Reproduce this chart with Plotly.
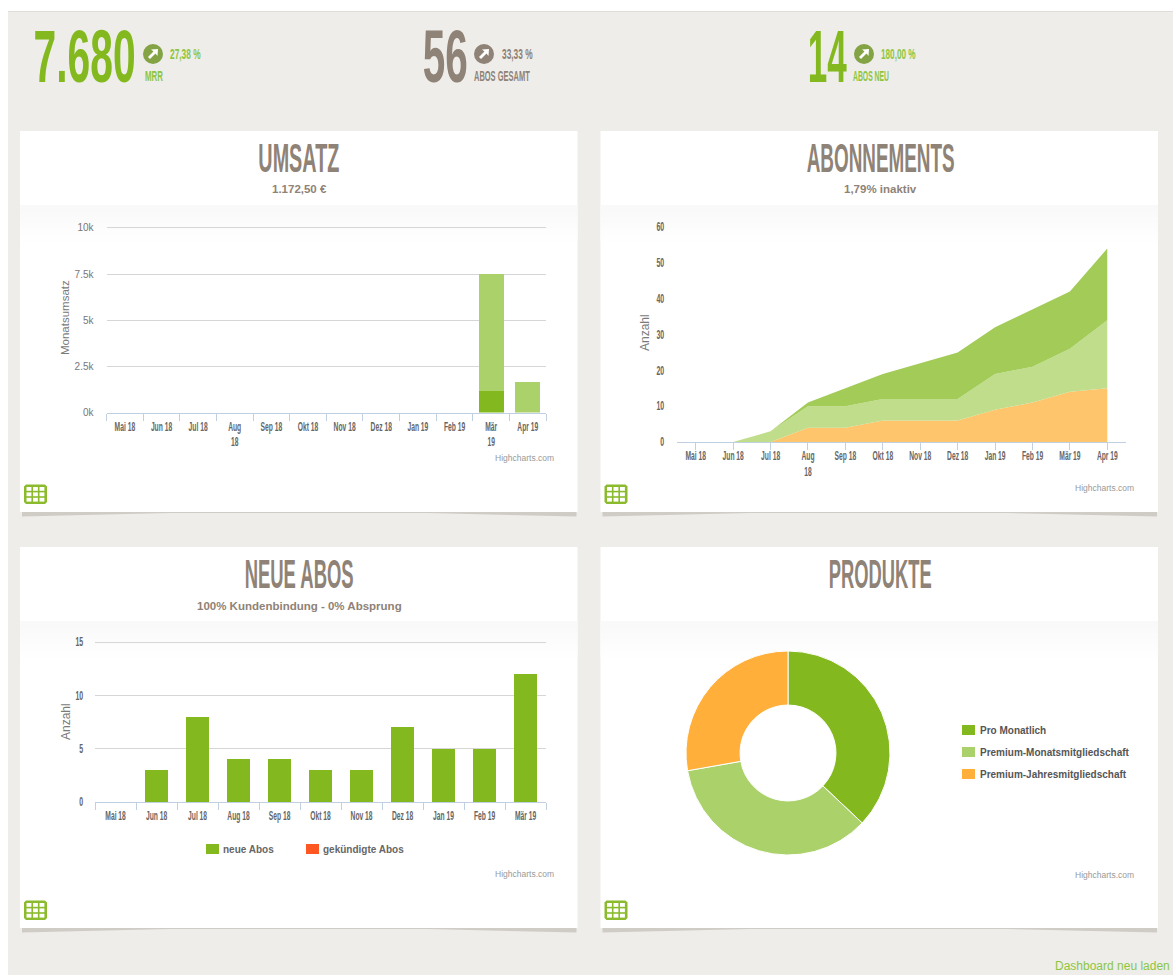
import json
import plotly.graph_objects as go

W, H = 1173, 975

# ---------- data ----------
months_a = ["Mai 18", "Jun 18", "Jul 18", "Aug<br>18", "Sep 18", "Okt 18", "Nov 18", "Dez 18", "Jan 19", "Feb 19", "Mär<br>19", "Apr 19"]
months_b = ["Mai 18", "Jun 18", "Jul 18", "Aug<br>18", "Sep 18", "Okt 18", "Nov 18", "Dez 18", "Jan 19", "Feb 19", "Mär 19", "Apr 19"]
months_c = ["Mai 18", "Jun 18", "Jul 18", "Aug 18", "Sep 18", "Okt 18", "Nov 18", "Dez 18", "Jan 19", "Feb 19", "Mär 19"]

umsatz_einmal = [0, 0, 0, 0, 0, 0, 0, 0, 0, 0, 1172.5, 0]
umsatz_wiederkehrend = [0, 0, 0, 0, 0, 0, 0, 0, 0, 0, 6330, 1650]
umsatz_ticks = [0, 2500, 5000, 7500, 10000]
umsatz_ticktext = ["0k", "2.5k", "5k", "7.5k", "10k"]

abo_jahr = [0, 0, 0, 4, 4, 6, 6, 6, 9, 11, 14, 15]
abo_premium = [0, 0, 3, 6, 6, 6, 6, 6, 10, 10, 12, 19]
abo_pro = [0, 0, 0, 1, 5, 7, 10, 13, 13, 16, 16, 20]

neue_abos = [0, 3, 8, 4, 4, 3, 3, 7, 5, 5, 12]
gekuendigt = [0, 0, 0, 0, 0, 0, 0, 0, 0, 0, 0]

produkte = ["Pro Monatlich", "Premium-Monatsmitgliedschaft", "Premium-Jahresmitgliedschaft"]
produkte_werte = [20, 19, 15]

# ---------- styles ----------
GREEN = "#83B91E"
TAUPE = "#8F8276"
SANS = "Liberation Sans"
PIE_COLORS = ["#83B91E", "#ABD16A", "#FFAF3A"]


def px(x):
    return x / W


def py(y):
    return 1 - y / H


shapes, annotations, condense = [], [], {}


def rect(x0, y0, x1, y1, color):
    shapes.append(dict(type="rect", xref="paper", yref="paper", x0=px(x0), x1=px(x1), y0=py(y1), y1=py(y0),
                       fillcolor=color, line=dict(width=0), layer="below"))


def poly(points, color):
    path = "M " + " L ".join(f"{px(a):.5f},{py(b):.5f}" for a, b in points) + " Z"
    shapes.append(dict(type="path", xref="paper", yref="paper", path=path, fillcolor=color,
                       line=dict(width=0), layer="below"))


def text(x, y, s, size, color, anchor="center", bold=False, angle=0, width=None):
    shown = f"<b>{s}</b>" if bold else s
    nudge = {"left": -2, "right": 2}.get(anchor, 0)
    annotations.append(dict(xref="paper", yref="paper", x=px(x + nudge), y=py(y), text=shown, showarrow=False,
                            xanchor=anchor, yanchor="middle", textangle=angle, align=anchor,
                            font=dict(family=SANS, size=size, color=color)))
    if width:
        condense[s] = [width, anchor]


def table_icon(x, y):
    w, h = 23, 19.5
    c = 2
    poly([(x + c, y), (x + w - c, y), (x + w, y + c), (x + w, y + h - c), (x + w - c, y + h), (x + c, y + h),
          (x, y + h - c), (x, y + c)], "#8BBB2D")
    cw, ch = 4.9, 3.8
    for r in range(3):
        for col in range(3):
            cx = x + 2.5 + col * (cw + 1.6)
            cy = y + 2.5 + r * (ch + 1.6)
            rect(cx, cy, cx + cw, cy + ch, "#FFFFFF")


def trend_icon(cx, cy, color):
    shapes.append(dict(type="circle", xref="paper", yref="paper", x0=px(cx - 10), x1=px(cx + 10),
                       y0=py(cy + 10), y1=py(cy - 10), fillcolor=color, line=dict(width=0), layer="below"))
    poly([(cx - 5, cy + 3), (cx + 0.5, cy - 2.5), (cx - 2, cy - 4.5), (cx + 5, cy - 5), (cx + 4.5, cy + 2),
          (cx + 2.5, cy - 0.5), (cx - 3, cy + 5)], "#FFFFFF")


def panel(x0, y0, y1, head_y):
    x1 = x0 + 557.5
    poly([(x0 + 2, y1), (x1 - 1, y1), (x1 - 1, y1 + 4.5), (x1 - 150, y1 + 1), (x0 + 150, y1 + 1), (x0 + 2, y1 + 4.5)], "#CFCCC6")
    rect(x0, y0, x1, y1, "#FFFFFF")
    for i, col in enumerate(["#F9F9F9", "#FAFAFA", "#FBFBFB", "#FCFCFC", "#FDFDFD", "#FEFEFE"]):
        rect(x0, head_y + i * 6, x1, head_y + (i + 1) * 6, col)
    table_icon(x0 + 4, y1 - 27.5)


# ---------- page furniture ----------
rect(8, 11, W, H, "#EEEDEA")
rect(8, 11, W, 12, "#DEDDDA")
panel(20, 131, 512, 205)
panel(600.5, 131, 512, 205)
panel(20, 547, 928, 621)
panel(600.5, 547, 928, 621)

# ---------- KPI row ----------
text(84, 57, "7.680", 74, GREEN, bold=True, width=102)
trend_icon(153, 54, "#83A344")
text(170, 54, "27,38 %", 14, "#8CC63F", "left", True, width=31)
text(145, 76, "MRR", 14, "#8CC63F", "left", True, width=18)

text(444.5, 57, "56", 74, TAUPE, bold=True, width=45)
trend_icon(484, 54, TAUPE)
text(502, 54, "33,33 %", 14, TAUPE, "left", True, width=31)
text(474, 76, "ABOS GESAMT", 14, TAUPE, "left", True, width=56)

text(827.5, 57, "14", 74, GREEN, bold=True, width=39)
trend_icon(864, 54, "#83A344")
text(881, 54, "180,00 %", 14, "#8CC63F", "left", True, width=35)
text(853, 76, "ABOS NEU", 14, "#8CC63F", "left", True, width=36)

# ---------- panel headers ----------
text(299, 158, "UMSATZ", 40, TAUPE, bold=True, width=81)
text(299, 189, "1.172,50 €", 11.5, TAUPE, bold=True)
text(880, 158, "ABONNEMENTS", 40, TAUPE, bold=True, width=148)
text(880, 189, "1,79% inaktiv", 11.5, TAUPE, bold=True)
text(299, 574, "NEUE ABOS", 40, TAUPE, bold=True, width=109)
text(299, 606, "100% Kundenbindung - 0% Absprung", 11.5, TAUPE, bold=True)
text(880, 574, "PRODUKTE", 40, TAUPE, bold=True, width=103)

# ---------- axis captions / credits ----------
text(65, 318, "Monatsumsatz", 11.5, "#7A7A7A", angle=-90)
text(645, 333, "Anzahl", 12, "#7A7A7A", angle=-90)
text(66, 722, "Anzahl", 12, "#7A7A7A", angle=-90)
for x, y in [(554, 458), (1134, 488), (554, 874), (1134, 875)]:
    text(x, y, "Highcharts.com", 8.5, "#999999", "right")

# ---------- hand-placed legends ----------
rect(206, 844, 219, 854, GREEN)
text(223, 849.5, "neue Abos", 10, "#666666", "left", True)
rect(306, 844, 319, 854, "#FF5722")
text(323, 849.5, "gekündigte Abos", 10, "#666666", "left", True)
for name, col, y in zip(produkte, PIE_COLORS, [730, 752, 774]):
    rect(962, y - 5, 975, y + 5, col)
    text(980, y, name, 10, "#555555", "left", True)

text(1170, 966, "Dashboard neu laden", 12, "#8CC63F", "right")

# ---------- traces ----------
fig = go.Figure()
fig.add_bar(x=months_a, y=umsatz_einmal, marker_color=GREEN, marker_line_width=0, width=0.68,
            name="einmalig", xaxis="x", yaxis="y")
fig.add_bar(x=months_a, y=umsatz_wiederkehrend, marker_color="#ABD16A", marker_line_width=0, width=0.68,
            name="wiederkehrend", xaxis="x", yaxis="y")

for vals, col, nm in [(abo_jahr, "#FFC56C", produkte[2]), (abo_premium, "#BFDD8B", produkte[1]), (abo_pro, "#A2CB58", produkte[0])]:
    fig.add_scatter(x=months_b, y=vals, stackgroup="abo", mode="lines", line=dict(width=0), fillcolor=col,
                    name=nm, xaxis="x2", yaxis="y2")

fig.add_bar(x=months_c, y=neue_abos, marker_color=GREEN, marker_line_width=0, width=0.57,
            name="neue Abos", xaxis="x3", yaxis="y3")
fig.add_bar(x=months_c, y=gekuendigt, marker_color="#FF5722", marker_line_width=0, width=0.57,
            name="gekündigte Abos", xaxis="x3", yaxis="y3")

fig.add_pie(labels=produkte, values=produkte_werte, hole=0.47, sort=False, direction="clockwise", rotation=0,
            marker=dict(colors=PIE_COLORS, line=dict(color="#FFFFFF", width=1)), textinfo="none",
            domain=dict(x=[px(686), px(890)], y=[py(855), py(651)]))

AXC = "#C0D0E0"
TICKF = dict(family=SANS, size=12, color="#666666", weight="bold")


def xaxis(a, b, anchor, boundaries, n):
    d = dict(domain=[px(a), px(b)], anchor=anchor, type="category", showline=True, linecolor=AXC, linewidth=1,
             ticks="outside", ticklen=7, tickcolor=AXC, tickwidth=1, tickfont=TICKF,
             ticklabelstandoff=3 if boundaries else -4,
             showgrid=False, zeroline=False, tickangle=0, range=[-0.5, n - 0.5])
    if boundaries:
        d["tickson"] = "boundaries"
    return d


def yaxis(top, bottom, anchor, rng, dtick=None, grid=True, font=None, vals=None, txt=None, standoff=12):
    d = dict(domain=[py(bottom), py(top)], anchor=anchor, range=rng, showgrid=grid, gridcolor="#D6D6D6", gridwidth=1.4,
             zeroline=False, showline=False, ticks="", tickfont=font, ticklabelstandoff=standoff)
    if dtick:
        d["dtick"] = dtick
    if vals:
        d["tickmode"] = "array"
        d["tickvals"] = vals
        d["ticktext"] = txt
    return d


fig.update_layout(
    width=W, height=H, autosize=False, margin=dict(l=0, r=0, t=0, b=0, pad=0, autoexpand=False),
    paper_bgcolor="#FFFFFF", plot_bgcolor="rgba(0,0,0,0)", showlegend=False, barmode="stack",
    shapes=shapes, annotations=annotations,
    xaxis=xaxis(106.5, 546, "y", True, 12),
    # the value axes run a touch past their top tick so that the top gridline is kept
    yaxis=yaxis(226.155, 412.5, "x", [0, 10100], font=dict(family=SANS, size=10, color="#777777"),
                vals=umsatz_ticks, txt=umsatz_ticktext),
    xaxis2=xaxis(677, 1126, "y2", False, 12),
    yaxis2=yaxis(227, 442, "x2", [0, 60], dtick=10, grid=False, font=TICKF),
    xaxis3=xaxis(95, 546, "y3", True, 11),
    yaxis3=yaxis(640.4, 802, "x3", [0, 15.15], dtick=5, font=TICKF, standoff=11),
)

post = """
document.documentElement.style.overflow='hidden';
document.body.style.margin='0';
var cfg = %s;
function squeeze(t, s, mode){
  var b = t.getBBox();
  var ox = mode==='left' ? b.x : (mode==='right' ? b.x+b.width : b.x+b.width/2);
  var old = t.getAttribute('transform') || '';
  t.setAttribute('transform', old+' translate('+ox+',0) scale('+s+',1) translate('+(-ox)+',0)');
}
document.querySelectorAll('.annotation-text').forEach(function(t){
  var c = cfg[t.textContent];
  if(c) squeeze(t, c[0]/t.getBBox().width, c[1]);
});
document.querySelectorAll('.xtick text, .x2tick text, .x3tick text').forEach(function(t){ squeeze(t, 0.56, 'center'); });
document.querySelectorAll('.y2tick text, .y3tick text').forEach(function(t){ squeeze(t, 0.58, 'right'); });
""" % json.dumps(condense, ensure_ascii=False)

fig.write_html("out.html", config=dict(displayModeBar=False), post_script=post)
